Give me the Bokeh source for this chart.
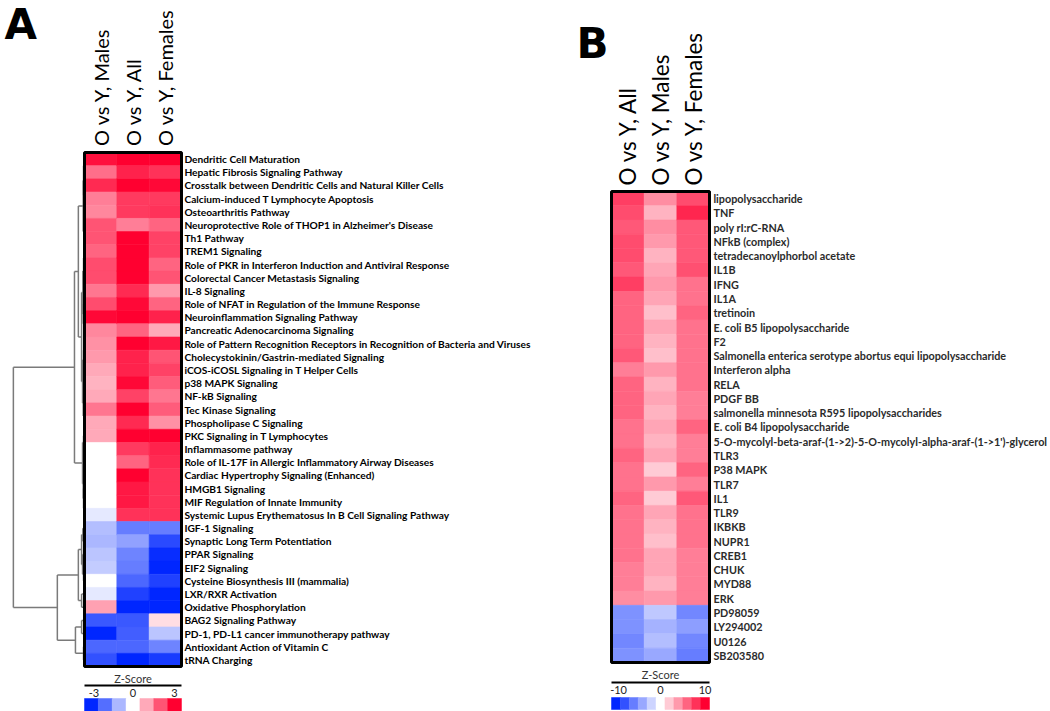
import math
from bokeh.plotting import figure
from bokeh.models import Range1d, ColumnDataSource, LinearColorMapper
from bokeh.layouts import row
from bokeh.transform import transform
from bokeh.core.properties import value
from bokeh.embed import file_html
from bokeh.resources import INLINE

# ---------------- data: panel A ----------------
cols_A = ["O vs Y, Males", "O vs Y, All", "O vs Y, Females"]
pathways_A = [
    "Dendritic Cell Maturation",
    "Hepatic Fibrosis Signaling Pathway",
    "Crosstalk between Dendritic Cells and Natural Killer Cells",
    "Calcium-induced T Lymphocyte Apoptosis",
    "Osteoarthritis Pathway",
    "Neuroprotective Role of THOP1 in Alzheimer's Disease",
    "Th1 Pathway",
    "TREM1 Signaling",
    "Role of PKR in Interferon Induction and Antiviral Response",
    "Colorectal Cancer Metastasis Signaling",
    "IL-8 Signaling",
    "Role of NFAT in Regulation of the Immune Response",
    "Neuroinflammation Signaling Pathway",
    "Pancreatic Adenocarcinoma Signaling",
    "Role of Pattern Recognition Receptors in Recognition of Bacteria and Viruses",
    "Cholecystokinin/Gastrin-mediated Signaling",
    "iCOS-iCOSL Signaling in T Helper Cells",
    "p38 MAPK Signaling",
    "NF-kB Signaling",
    "Tec Kinase Signaling",
    "Phospholipase C Signaling",
    "PKC Signaling in T Lymphocytes",
    "Inflammasome pathway",
    "Role of IL-17F in Allergic Inflammatory Airway Diseases",
    "Cardiac Hypertrophy Signaling (Enhanced)",
    "HMGB1 Signaling",
    "MIF Regulation of Innate Immunity",
    "Systemic Lupus Erythematosus In B Cell Signaling Pathway",
    "IGF-1 Signaling",
    "Synaptic Long Term Potentiation",
    "PPAR Signaling",
    "EIF2 Signaling",
    "Cysteine Biosynthesis III (mammalia)",
    "LXR/RXR Activation",
    "Oxidative Phosphorylation",
    "BAG2 Signaling Pathway",
    "PD-1, PD-L1 cancer immunotherapy pathway",
    "Antioxidant Action of Vitamin C",
    "tRNA Charging",
]
males_A = [2.8, 1.7, 2.5, 1.5, 1.4, 2.0, 2.0, 1.8, 2.1, 2.1, 1.6, 2.1, 2.9, 1.4, 1.3,
           1.2, 1.0, 0.9, 1.0, 1.6, 1.0, 1.0, 0.0, 0.0, 0.0, 0.0, 0.0, -0.3, -0.9, -1.0,
           -0.8, -0.7, 0.0, -0.3, 1.1, -2.3, -3.0, -2.1, -2.4]
all_A = [3.0, 2.6, 3.0, 2.3, 2.3, 1.5, 3.0, 3.0, 3.0, 3.0, 2.5, 2.9, 3.0, 1.8, 3.0,
         2.6, 2.6, 2.9, 2.2, 3.0, 2.5, 3.0, 2.3, 1.8, 3.0, 2.7, 2.7, 2.4, -1.8, -1.3,
         -1.7, -1.8, -2.1, -2.6, -3.0, -2.3, -2.2, -2.1, -3.0]
females_A = [3.0, 2.4, 2.9, 2.3, 2.4, 1.8, 2.2, 2.2, 1.8, 2.0, 1.2, 1.8, 2.6, 1.0, 2.7,
             2.0, 2.2, 1.9, 1.6, 1.9, 1.3, 3.0, 2.6, 2.5, 2.4, 2.4, 2.4, 2.4, -1.8, -2.5,
             -2.9, -3.0, -2.6, -3.0, -3.0, 0.4, -0.8, -1.7, -2.7]

# dendrogram of panel A rows: (merge distance, left, right); leaves are row indices
tree_A = (2.2,
          (0.31,
           (0.19,
            (0.04, (0.03, (0.01, 0, 1), (0.02, 2, (0.01, 3, 4))), (0.02, 5, 6)),
            (0.09,
             (0.05, (0.03, (0.02, 7, 8), (0.02, 9, 10)), (0.04, 11, (0.02, 12, 13))),
             (0.06, (0.03, (0.02, 14, 15), 16), (0.04, (0.02, 17, 18), (0.02, 19, 20))))),
           (0.06, (0.03, 21, 22), (0.04, (0.02, 23, 24), (0.03, 25, (0.01, 26, 27))))),
          (0.84,
           (0.19,
            (0.09, (0.05, 28, 29), (0.06, 30, (0.03, 31, 32))),
            (0.09, 33, 34)),
           (0.28, (0.09, 35, 36), (0.03, 37, 38))))

legend_vals_A = [-3, -2, -1, 0, 1, 2, 3]
legend_ticks_A = ["-3", "0", "3"]

# ---------------- data: panel B ----------------
cols_B = ["O vs Y, All", "O vs Y, Males", "O vs Y, Females"]
regulators_B = [
    "lipopolysaccharide", "TNF", "poly rI:rC-RNA", "NFkB (complex)",
    "tetradecanoylphorbol acetate", "IL1B", "IFNG", "IL1A", "tretinoin",
    "E. coli B5 lipopolysaccharide", "F2",
    "Salmonella enterica serotype abortus equi lipopolysaccharide",
    "Interferon alpha", "RELA", "PDGF BB",
    "salmonella minnesota R595 lipopolysaccharides",
    "E. coli B4 lipopolysaccharide",
    "5-O-mycolyl-beta-araf-(1->2)-5-O-mycolyl-alpha-araf-(1->1')-glycerol",
    "TLR3", "P38 MAPK", "TLR7", "IL1", "TLR9", "IKBKB", "NUPR1", "CREB1",
    "CHUK", "MYD88", "ERK", "PD98059", "LY294002", "U0126", "SB203580",
]
all_B = [7.5, 7.0, 6.5, 7.0, 7.0, 6.5, 7.5, 6.0, 6.0, 6.0, 6.0, 6.5, 5.0, 6.0, 6.0,
         6.0, 5.5, 5.5, 6.0, 5.5, 5.5, 6.0, 5.5, 5.5, 5.5, 5.5, 5.0, 5.0, 4.5, -5.0,
         -5.0, -5.5, -5.0]
males_B = [4.5, 3.0, 4.5, 4.0, 3.0, 3.5, 4.0, 3.5, 2.5, 3.5, 3.0, 2.5, 4.0, 3.0, 3.5,
           3.0, 3.5, 3.0, 3.5, 2.0, 4.0, 2.0, 3.5, 3.0, 2.5, 3.5, 3.5, 3.0, 4.0, -2.5,
           -3.5, -3.0, -4.0]
females_B = [7.0, 8.5, 6.5, 6.5, 6.5, 6.8, 5.5, 5.5, 6.0, 5.5, 5.5, 5.5, 5.5, 5.5, 5.0,
             5.0, 6.0, 5.0, 5.0, 6.0, 5.0, 6.5, 5.5, 5.5, 5.5, 5.0, 5.0, 5.0, 5.0, -5.5,
             -4.5, -5.5, -6.0]

legend_vals_B = [-10, -8, -6, -4, -2, 0, 2, 4, 6, 8, 10]
legend_ticks_B = ["-10", "0", "10"]

# ---------------- styling helpers ----------------
BLUE = (0, 38, 255)
RED = (255, 0, 48)


def make_palette(n=255):
    pal = []
    for i in range(n):
        t = -1 + 2 * i / (n - 1)
        end = BLUE if t < 0 else RED
        a = abs(t)
        r, g, b = (round(255 + (c - 255) * a) for c in end)
        pal.append("#%02x%02x%02x" % (r, g, b))
    return pal


PALETTE = make_palette()
H = 711


def make_fig(width, cw, rh, x0, y0):
    p = figure(width=width, height=H, output_backend="svg", toolbar_location=None,
               x_range=Range1d(-x0 / cw, (width - x0) / cw),
               y_range=Range1d((H - y0) / rh, -y0 / rh),
               x_axis_location=None, y_axis_location=None,
               min_border=0, outline_line_color=None,
               background_fill_color="white", border_fill_color="white")
    p.grid.visible = False
    return p


def draw_heatmap(p, cols, rows, series, mapper, label_x, header_y, header_size,
                 label_color, label_size):
    left, right, top, bottom, z = [], [], [], [], []
    for j, s in enumerate(series):
        for i, v in enumerate(s):
            left.append(j)
            right.append(j + 1)
            top.append(i)
            bottom.append(i + 1)
            z.append(v)
    src = ColumnDataSource(dict(left=left, right=right, top=top, bottom=bottom, z=z))
    p.quad(left="left", right="right", top="top", bottom="bottom", source=src,
           fill_color=transform("z", mapper), line_color=transform("z", mapper),
           line_width=0.6)
    n = len(rows)
    p.quad(left=[0], right=[len(cols)], top=[0], bottom=[n], fill_color=None,
           line_color="black", line_width=3)
    p.text(x=[label_x] * n, y=[i + 0.5 for i in range(n)], text=rows,
           text_font=value("Lato"), text_font_style="bold", text_font_size=label_size,
           text_color=label_color, text_align="left", text_baseline="middle")
    p.text(x=[j + 0.5 for j in range(len(cols))], y=[header_y] * len(cols), text=cols,
           angle=math.pi / 2, text_font=value("Lato"), text_font_size=header_size,
           text_color="black", text_align="left", text_baseline="middle")


def draw_legend(p, vals, ticks, mapper, ncols, y_title, y_line, y_ticks, y_top, y_bot):
    k = len(vals)
    w = ncols / k
    src = ColumnDataSource(dict(left=[i * w for i in range(k)],
                                right=[(i + 1) * w for i in range(k)], z=vals))
    p.quad(left="left", right="right", top=y_top, bottom=y_bot, source=src,
           fill_color=transform("z", mapper), line_color=transform("z", mapper),
           line_width=0.5)
    p.text(x=[ncols / 2], y=[y_title], text=["Z-Score"], text_font=value("Lato"),
           text_font_size="11px", text_color="#333333", text_align="center",
           text_baseline="middle")
    p.segment(x0=[0], y0=[y_line], x1=[ncols], y1=[y_line], line_color="black",
              line_width=2)
    tick_pos = [w / 2 + 0.08, ncols / 2, ncols - w / 2]
    p.text(x=tick_pos, y=[y_ticks] * 3, text=ticks, text_font=value("Lato"),
           text_font_size="11px", text_color="#222222", text_align="center",
           text_baseline="middle")


def dendro(node, segs):
    if isinstance(node, int):
        return node + 0.5, 0.0
    h, l, r = node
    cl, hl = dendro(l, segs)
    cr, hr = dendro(r, segs)
    segs.append((-h, cl, -h, cr))
    segs.append((-hl, cl, -h, cl))
    segs.append((-hr, cr, -h, cr))
    return (cl + cr) / 2, h


# ---------------- panel A ----------------
cwA, rhA, x0A, y0A = 32.33, 13.18, 84, 152
pA = make_fig(568, cwA, rhA, x0A, y0A)
mapA = LinearColorMapper(palette=PALETTE, low=-3, high=3)

segs = []
dendro(tree_A, segs)
pA.segment(x0=[s[0] for s in segs], y0=[s[1] for s in segs],
           x1=[s[2] for s in segs], y1=[s[3] for s in segs],
           line_color="#7a7a7a", line_width=1.5)

draw_heatmap(pA, cols_A, pathways_A, [males_A, all_A, females_A], mapA,
             label_x=3.09, header_y=-0.5, header_size="20px",
             label_color="black", label_size="10.2px")


def py_A(px):
    return (px - y0A) / rhA


draw_legend(pA, legend_vals_A, legend_ticks_A, mapA, 3,
            py_A(678), py_A(685), py_A(692), py_A(698), py_A(712))
pA.text(x=[(4 - x0A) / cwA], y=[py_A(24)], text=["A"], text_font=value("DejaVu Sans"),
        text_font_style="bold", text_font_size="42px", text_color="black",
        text_align="left", text_baseline="alphabetic")

# ---------------- panel B ----------------
cwB, rhB, x0B, y0B = 32.67, 14.27, 43, 191
pB = make_fig(482, cwB, rhB, x0B, y0B)
mapB = LinearColorMapper(palette=PALETTE, low=-10, high=10)

draw_heatmap(pB, cols_B, regulators_B, [all_B, males_B, females_B], mapB,
             label_x=3.12, header_y=-0.42, header_size="22.5px",
             label_color="#2b2b2b", label_size="10.8px")


def py_B(px):
    return (px - y0B) / rhB


draw_legend(pB, legend_vals_B, legend_ticks_B, mapB, 3,
            py_B(674), py_B(682), py_B(689), py_B(697), py_B(709))
pB.text(x=[(8 - x0B) / cwB], y=[py_B(43)], text=["B"], text_font=value("DejaVu Sans"),
        text_font_style="bold", text_font_size="42px", text_color="black",
        text_align="left", text_baseline="alphabetic")

layout = row(pA, pB)
open("out.html", "w").write(file_html(layout, INLINE))
